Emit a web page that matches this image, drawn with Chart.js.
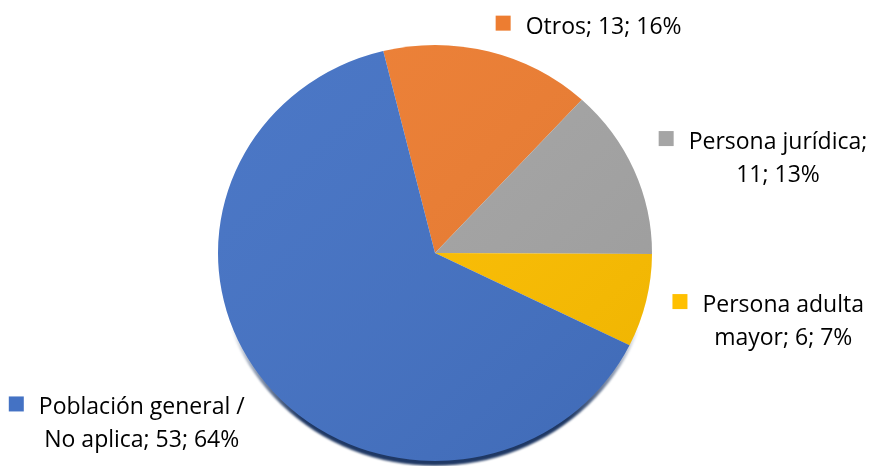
<!DOCTYPE html>
<html>
<head>
<meta charset="utf-8">
<script src="https://cdn.jsdelivr.net/npm/chart.js@4.4.1/dist/chart.umd.min.js"></script>
<style>
  html, body { margin: 0; padding: 0; background: #fff; }
  #wrap { width: 872px; height: 466px; }
</style>
</head>
<body>
<div id="wrap"><canvas id="grupoChart" width="872" height="466"></canvas></div>
<script>
// datos
const categorias = ['Otros', 'Persona jurídica', 'Persona adulta mayor', 'Población general / No aplica'];
const casos = [13, 11, 6, 53];
const colores = ['#ED7D31', '#A5A5A5', '#FFC000', '#4472C4'];

const SQUASH = 0.9585;   // pastel algo achatado (3D)
const CENTER_Y = 253;
const FONT = '23px "Open Sans"';
const LINE_H = 33;
const WRAP_W = 212;

const total = casos.reduce(function (a, b) { return a + b; }, 0);

function wrapText(ctx, text, maxW) {
    const words = text.split(' ');
    const lines = [];
    let cur = '';
    words.forEach(function (w) {
        const test = cur ? cur + ' ' + w : w;
        if (cur && ctx.measureText(test).width > maxW) {
            lines.push(cur);
            cur = w;
        } else {
            cur = test;
        }
    });
    if (cur) lines.push(cur);
    return lines;
}

const pie3d = {
    id: 'pie3d',
    beforeDatasetsDraw: function (chart) {
        const ctx = chart.ctx;
        const arc = chart.getDatasetMeta(0).data[0];
        const r = arc.outerRadius;
        ctx.save();
        ctx.translate(arc.x, CENTER_Y);
        ctx.scale(1, SQUASH);
        ctx.translate(-arc.x, -arc.y);
        // borde oscuro inferior, se desvanece hacia los lados
        const sg = ctx.createLinearGradient(0, arc.y + r * 0.35, 0, arc.y + r * 0.8);
        sg.addColorStop(0, 'rgba(31,56,100,0)');
        sg.addColorStop(1, 'rgba(31,56,100,1)');
        ctx.save();
        ctx.filter = 'blur(1px)';
        ctx.beginPath();
        ctx.arc(arc.x, arc.y + 5, r, 0, Math.PI * 2);
        ctx.fillStyle = sg;
        ctx.fill();
        ctx.restore();
    },
    afterDatasetsDraw: function (chart) {
        const ctx = chart.ctx;
        const arc = chart.getDatasetMeta(0).data[0];
        const r = arc.outerRadius;
        const g = ctx.createLinearGradient(arc.x - r, arc.y - r, arc.x + r, arc.y + r);
        g.addColorStop(0, 'rgba(255,255,255,0.04)');
        g.addColorStop(1, 'rgba(0,0,0,0.07)');
        ctx.beginPath();
        ctx.arc(arc.x, arc.y, r, 0, Math.PI * 2);
        ctx.fillStyle = g;
        ctx.fill();
        ctx.restore();
    },
    afterDraw: function (chart) {
        const ctx = chart.ctx;
        const meta = chart.getDatasetMeta(0);
        ctx.save();
        ctx.font = FONT;
        meta.data.forEach(function (el, i) {
            const v = casos[i];
            const pct = Math.round(v / total * 100);
            const text = categorias[i] + '; ' + v + '; ' + pct + '%';
            const lines = wrapText(ctx, text, WRAP_W);
            let maxW = 0;
            lines.forEach(function (l) { maxW = Math.max(maxW, ctx.measureText(l).width); });
            const mid = (el.startAngle + el.endAngle) / 2;
            const ux = Math.cos(mid), uy = Math.sin(mid) * SQUASH;
            const d = el.outerRadius + 27;
            const px = el.x + ux * d;
            const py = CENTER_Y + Math.sin(mid) * d * SQUASH;
            const w = 30 + maxW;
            const h = lines.length * LINE_H;
            const left = ux >= 0 ? px : px - w;
            const top = py + uy * h / 2 - h / 2 + 9.5 - 7 * uy;
            ctx.fillStyle = colores[i];
            ctx.fillRect(left, top + 5, 15, 15);
            ctx.fillStyle = '#000';
            ctx.textAlign = 'center';
            ctx.textBaseline = 'alphabetic';
            lines.forEach(function (l, j) {
                ctx.fillText(l, left + 30 + maxW / 2, top + 23 + j * LINE_H);
            });
        });
        ctx.restore();
    }
};

const ctxGrupo = document.getElementById('grupoChart').getContext('2d');
const grupoChart = new Chart(ctxGrupo, {
    type: 'pie',
    data: {
        labels: categorias,
        datasets: [{
            data: casos,
            backgroundColor: colores,
            borderWidth: 0
        }]
    },
    options: {
        responsive: false,
        animation: false,
        rotation: -13.8,
        layout: {
            padding: { left: 218, right: 220, top: 16, bottom: 16 }
        },
        plugins: {
            legend: { display: false },
            tooltip: { enabled: false },
            title: { display: false }
        }
    },
    plugins: [pie3d]
});
</script>
</body>
</html>
